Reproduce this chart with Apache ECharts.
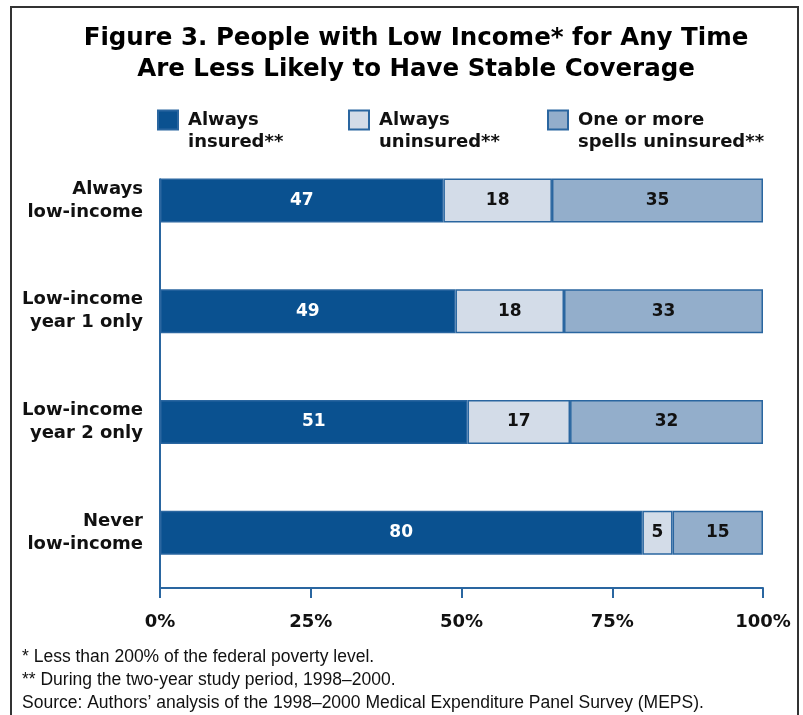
<!DOCTYPE html>
<html><head><meta charset="utf-8">
<script src="https://cdn.jsdelivr.net/npm/echarts@6/dist/echarts.min.js"></script>
<style>html,body{margin:0;padding:0;background:#fff}#c{width:803px;height:715px}</style>
</head><body><div id="c"></div>
<script>
const categories = ['Always\nlow-income', 'Low-income\nyear 1 only', 'Low-income\nyear 2 only', 'Never\nlow-income'];
const seriesNames = ['Always\ninsured**', 'Always\nuninsured**', 'One or more\nspells uninsured**'];
const alwaysInsured = [47, 49, 51, 80];
const alwaysUninsured = [18, 18, 17, 5];
const spellsUninsured = [35, 33, 32, 15];
const tickLabels = ['0%', '25%', '50%', '75%', '100%'];

const colors = ['#0a5190', '#d3dce8', '#93aecb'];
const labelColors = ['#ffffff', '#111111', '#111111'];
const borderC = '#2a66a0';
const bold = '"DejaVu Sans", "Liberation Sans", Arial, sans-serif';
const font = '"Liberation Sans", Arial, sans-serif';
const dataSets = [alwaysInsured, alwaysUninsured, spellsUninsured];

const chart = echarts.init(document.getElementById('c'), null, {renderer: 'canvas'});
const legendLefts = [157, 348, 547];
// square swatch in the upper part of a taller legend item (M point only extends the bounding box)
const swatchIcon = 'path://M0,0L20,0L20,19L0,19Z M0,41';

const option = {
  backgroundColor: '#fff',
  animation: false,
  title: {
    text: 'Figure 3. People with Low Income* for Any Time\nAre Less Likely to Have Stable Coverage',
    left: 411, top: 18, textAlign: 'center',
    textStyle: {fontFamily: bold, fontWeight: 'bold', fontSize: 24.5, lineHeight: 31, color: '#000'}
  },
  legend: seriesNames.map((n, i) => ({
    data: [n], left: legendLefts[i], top: 109, orient: 'horizontal', padding: 0,
    itemWidth: 20, itemHeight: 41, itemGap: 10, icon: swatchIcon, selectedMode: false,
    textStyle: {fontFamily: bold, fontWeight: 'bold', fontSize: 18, lineHeight: 22, color: '#111', padding: [0, 0, 0, 5]}
  })),
  grid: {left: 160, right: 40, top: 145, bottom: 127, containLabel: false},
  xAxis: {
    type: 'value', min: 0, max: 100, interval: 25,
    axisLine: {show: true, lineStyle: {color: borderC, width: 2}},
    axisTick: {show: true, length: 10, lineStyle: {color: borderC, width: 2}},
    splitLine: {show: false},
    axisLabel: {margin: 25, fontFamily: bold, fontWeight: 'bold', fontSize: 18, color: '#111',
      formatter: (v) => tickLabels[Math.round(v / 25)]}
  },
  yAxis: {
    type: 'category', data: categories, inverse: true,
    axisLine: {show: false}, axisTick: {show: false},
    axisLabel: {margin: 17, fontFamily: bold, fontWeight: 'bold', fontSize: 18, lineHeight: 23, color: '#111', align: 'right'}
  },
  series: seriesNames.map((n, i) => ({
    name: n, type: 'bar', stack: 'total', data: dataSets[i], barWidth: 44,
    itemStyle: {color: colors[i], borderColor: borderC, borderWidth: 1.5},
    label: {show: true, position: 'inside', fontFamily: bold, fontWeight: 'bold', fontSize: 17, color: labelColors[i]}
  }))
};
chart.setOption(option);

const p0 = chart.convertToPixel({xAxisIndex: 0, yAxisIndex: 0}, [0, 0]);
const pBottom = chart.convertToPixel({xAxisIndex: 0, yAxisIndex: 0}, [0, 3]);
const band = (pBottom[1] - p0[1]) / 3;
const axisBottom = pBottom[1] + band / 2;
chart.setOption({
  graphic: [
    {type: 'line', shape: {x1: p0[0], y1: p0[1] - 22, x2: p0[0], y2: axisBottom}, style: {stroke: borderC, lineWidth: 2}, z: 10},
    {type: 'rect', shape: {x: 11, y: 7, width: 787, height: 720}, style: {fill: 'none', stroke: '#333', lineWidth: 2}, silent: true},
    {type: 'text', left: 22, top: 648, style: {text: '* Less than 200% of the federal poverty level.', font: '17.5px ' + font, fill: '#111'}},
    {type: 'text', left: 22, top: 671, style: {text: '** During the two-year study period, 1998\u20132000.', font: '17.5px ' + font, fill: '#111'}},
    {type: 'text', left: 22, top: 694, style: {text: 'Source: Authors\u2019 analysis of the 1998\u20132000 Medical Expenditure Panel Survey (MEPS).', font: '17.5px ' + font, fill: '#111'}}
  ]
});
</script></body></html>
